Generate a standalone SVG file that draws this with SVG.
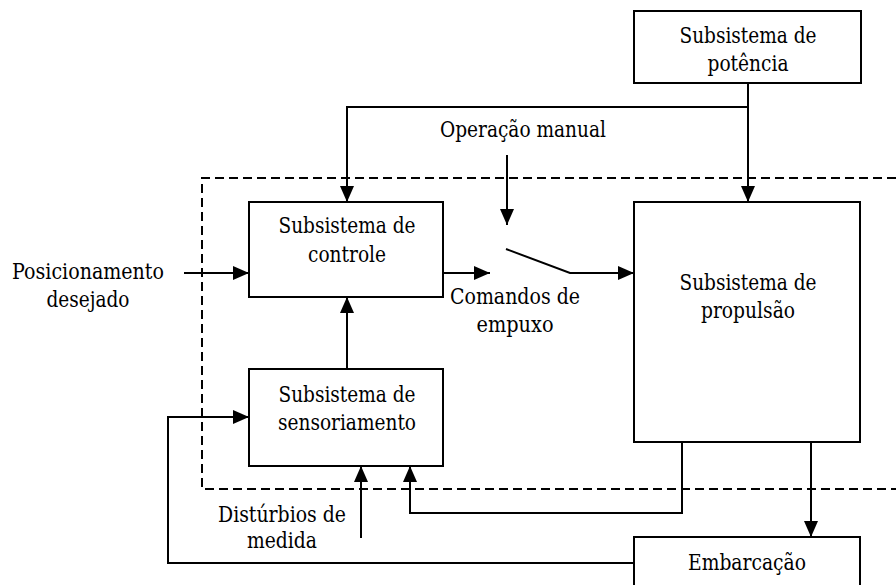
<svg xmlns="http://www.w3.org/2000/svg" width="896" height="585" viewBox="0 0 896 585">
<style>
.box{fill:#fff;stroke:#000;stroke-width:2}
.ln{fill:none;stroke:#000;stroke-width:2}
.dash{fill:none;stroke:#000;stroke-width:2;stroke-dasharray:9 5}
.t{font-family:'DejaVu Serif','Liberation Serif',serif;font-size:23px;fill:#000;text-anchor:middle}
</style>
<defs>
<marker id="ah" markerUnits="userSpaceOnUse" markerWidth="16" markerHeight="14" refX="16" refY="7" orient="auto">
<path d="M0,0 L16,7 L0,14 z" fill="#000"/>
</marker>
</defs>
<rect width="896" height="585" fill="#fff"/>
<path class="dash" d="M896,178 H202 V489 H896"/>
<g id="connectors">
<path class="ln" d="M748,83 V107 H347 V202" marker-end="url(#ah)"/>
<path class="ln" d="M748,107 V202" marker-end="url(#ah)"/>
<path class="ln" d="M507,155 V225" marker-end="url(#ah)"/>
<path class="ln" d="M184,273 H249" marker-end="url(#ah)"/>
<path class="ln" d="M443,273 H490" marker-end="url(#ah)"/>
<path class="ln" d="M506,249 L570,273 H634" marker-end="url(#ah)"/>
<path class="ln" d="M347,369 V297" marker-end="url(#ah)"/>
<path class="ln" d="M682,442 V513 H410 V466" marker-end="url(#ah)"/>
<path class="ln" d="M361,538 V466" marker-end="url(#ah)"/>
<path class="ln" d="M811,442 V537" marker-end="url(#ah)"/>
<path class="ln" d="M634,563 H168 V417 H249" marker-end="url(#ah)"/>
</g>
<g id="potencia">
<rect class="box" x="634" y="11" width="227" height="72"/>
<text class="t" x="748" y="43" textLength="137" lengthAdjust="spacingAndGlyphs">Subsistema de</text>
<text class="t" x="748" y="71" textLength="81" lengthAdjust="spacingAndGlyphs">potência</text>
</g>
<g id="controle">
<rect class="box" x="249" y="202" width="194" height="95"/>
<text class="t" x="347" y="233" textLength="137" lengthAdjust="spacingAndGlyphs">Subsistema de</text>
<text class="t" x="347" y="262" textLength="78" lengthAdjust="spacingAndGlyphs">controle</text>
</g>
<g id="sensoriamento">
<rect class="box" x="249" y="369" width="194" height="97"/>
<text class="t" x="347" y="402" textLength="137" lengthAdjust="spacingAndGlyphs">Subsistema de</text>
<text class="t" x="347" y="430" textLength="138" lengthAdjust="spacingAndGlyphs">sensoriamento</text>
</g>
<g id="propulsao">
<rect class="box" x="634" y="202" width="226" height="240"/>
<text class="t" x="748" y="290" textLength="137" lengthAdjust="spacingAndGlyphs">Subsistema de</text>
<text class="t" x="748" y="318" textLength="94" lengthAdjust="spacingAndGlyphs">propulsão</text>
</g>
<g id="embarcacao">
<rect class="box" x="634" y="537" width="226" height="60"/>
<text class="t" x="747" y="570" textLength="118" lengthAdjust="spacingAndGlyphs">Embarcação</text>
</g>
<g id="labels">
<text class="t" x="88" y="279" textLength="152" lengthAdjust="spacingAndGlyphs">Posicionamento</text>
<text class="t" x="88" y="307" textLength="83" lengthAdjust="spacingAndGlyphs">desejado</text>
<text class="t" x="523" y="137" textLength="166" lengthAdjust="spacingAndGlyphs">Operação manual</text>
<text class="t" x="515" y="304" textLength="130" lengthAdjust="spacingAndGlyphs">Comandos de</text>
<text class="t" x="515" y="332" textLength="77" lengthAdjust="spacingAndGlyphs">empuxo</text>
<text class="t" x="282" y="522" textLength="128" lengthAdjust="spacingAndGlyphs">Distúrbios de</text>
<text class="t" x="282" y="548" textLength="70" lengthAdjust="spacingAndGlyphs">medida</text>
</g>
</svg>
